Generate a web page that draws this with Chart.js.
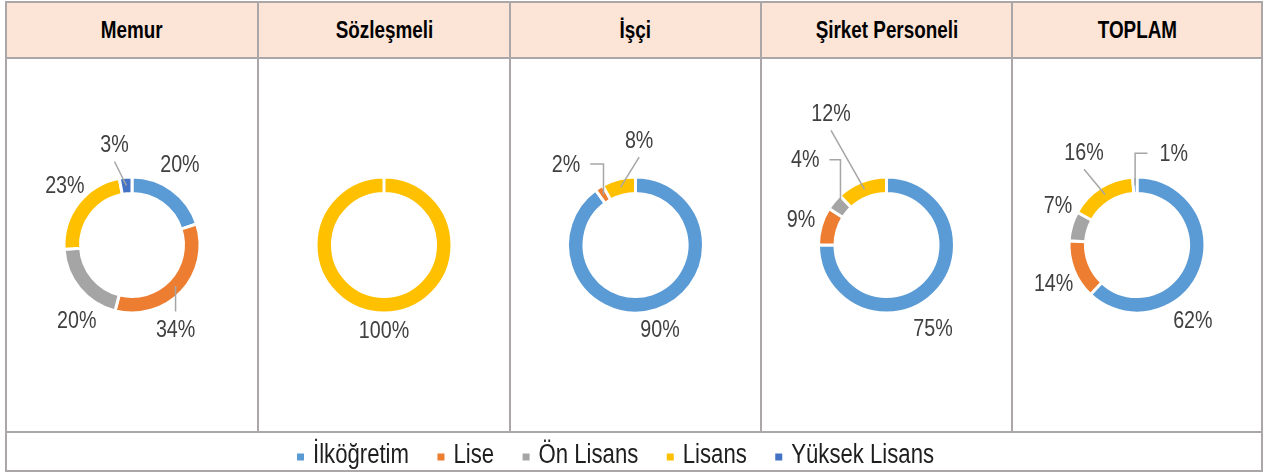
<!DOCTYPE html>
<html lang="tr">
<head>
<meta charset="utf-8">
<script src="https://cdn.jsdelivr.net/npm/chart.js@4.4.1/dist/chart.umd.min.js"></script>
<style>
  html, body { margin: 0; padding: 0; background: #fff; }
  body { width: 1264px; height: 472px; position: relative; overflow: hidden;
         font-family: "Liberation Sans", Arial, sans-serif; }
  .cell { position: absolute; box-sizing: border-box; border: 2px solid #aba7a9; }
  .head { background: #fce4d6; display: flex; align-items: center; justify-content: center; }
  .head span { display: inline-block; font-weight: bold; font-size: 23px; color: #000;
               transform: scaleX(0.82); white-space: nowrap; }
  canvas { position: absolute; }
</style>
</head>
<body>
<script>
// --- data ---
const groups = ['Memur', 'Sözleşmeli', 'İşçi', 'Şirket Personeli', 'TOPLAM'];
const levels = ['İlköğretim', 'Lise', 'Ön Lisans', 'Lisans', 'Yüksek Lisans'];
const memur      = [20, 34, 20, 23, 3];
const sozlesmeli = [0, 0, 0, 100, 0];
const isci       = [90, 2, 0, 8, 0];
const sirket     = [75, 9, 4, 12, 0];
const toplam     = [62, 14, 7, 16, 1];
const groupValues = [memur, sozlesmeli, isci, sirket, toplam];

// --- styles / layout ---
const levelColors = ['#5b9bd5', '#ed7d31', '#a5a5a5', '#ffc000', '#4472c4'];
const colEdges = [6, 258, 510, 761, 1012, 1262];
const rowEdges = [2, 58, 432, 471];
const SQUEEZE = 0.82; // narrow (Arial Narrow) look
const FONT = '"Liberation Sans", Arial, sans-serif';
const OUTER = 68, INNER = 51.5;

// where each percentage label sits: [angle from top (deg), distance, leader type]
const labelSpots = [
    [[31, 93], [153, 96, 'line'], [216, 94], [311, 89], [350, 101, 'line']],
    [null, null, null, [180, 86], null],
    [[164, 89], [319, 106, 'elbow'], null, [2, 104, 'line'], null],
    [[151, 96], [286, 89], [316, 117, 'elbow'], [337, 142, 'line'], null],
    [[144, 95], [245, 92], [296, 88], [330, 106, 'line'], [22, 98, 'elbow']]
];

function addCell(x0, y0, x1, y1, cls) {
    const d = document.createElement('div');
    d.className = 'cell ' + (cls || '');
    d.style.left = (x0 - 1) + 'px';
    d.style.top = (y0 - 1) + 'px';
    d.style.width = (x1 - x0 + 2) + 'px';
    d.style.height = (y1 - y0 + 2) + 'px';
    document.body.appendChild(d);
    return d;
}

// grid: header row, chart row, legend row
groups.forEach((g, i) => {
    const h = addCell(colEdges[i], rowEdges[0], colEdges[i + 1], rowEdges[1], 'head');
    const s = document.createElement('span');
    s.textContent = g;
    h.appendChild(s);
    addCell(colEdges[i], rowEdges[1], colEdges[i + 1], rowEdges[2]);
});
addCell(colEdges[0], rowEdges[2], colEdges[5], rowEdges[3]);

function labelPlugin(spots) {
    return {
        id: 'pctLabels',
        afterDatasetsDraw(chart) {
            const ctx = chart.ctx;
            const vals = chart.data.datasets[0].data;
            const meta = chart.getDatasetMeta(0);
            ctx.save();
            ctx.font = '24px ' + FONT;
            meta.data.forEach((arc, i) => {
                const spot = spots[i];
                if (!spot || !vals[i]) return;
                const p = arc.getProps(['x', 'y', 'startAngle', 'endAngle', 'innerRadius', 'outerRadius'], true);
                const a = spot[0] * Math.PI / 180 - Math.PI / 2;
                const lx = p.x + Math.cos(a) * spot[1];
                const ly = p.y + Math.sin(a) * spot[1];
                const text = vals[i] + '%';
                const half = ctx.measureText(text).width * SQUEEZE / 2;

                if (spot[2]) {
                    const mid = (p.startAngle + p.endAngle) / 2;
                    const rr = (p.innerRadius + p.outerRadius) / 2;
                    const px = p.x + Math.cos(mid) * rr;
                    const py = p.y + Math.sin(mid) * rr;
                    ctx.strokeStyle = '#a6a6a6';
                    ctx.lineWidth = 1.5;
                    ctx.beginPath();
                    ctx.moveTo(px, py);
                    if (spot[2] === 'line') {
                        ctx.lineTo(lx, ly < py ? ly + 16 : ly - 19);
                    } else {
                        ctx.lineTo(px, ly - 1);
                        ctx.lineTo(lx < px ? lx + half + 10 : lx - half - 12, ly - 1);
                    }
                    ctx.stroke();
                }

                ctx.save();
                ctx.translate(lx, ly);
                ctx.scale(SQUEEZE, 1);
                ctx.fillStyle = '#404040';
                ctx.textAlign = 'center';
                ctx.textBaseline = 'middle';
                ctx.fillText(text, 0, 0);
                ctx.restore();
            });
            ctx.restore();
        }
    };
}

groupValues.forEach((vals, i) => {
    const cv = document.createElement('canvas');
    const w = colEdges[i + 1] - colEdges[i] - 2;
    const h = rowEdges[2] - rowEdges[1] - 2;
    cv.width = w; cv.height = h;
    cv.style.left = (colEdges[i] + 1) + 'px';
    cv.style.top = (rowEdges[1] + 1) + 'px';
    cv.style.width = w + 'px'; cv.style.height = h + 'px';
    document.body.appendChild(cv);

    new Chart(cv, {
        type: 'doughnut',
        data: {
            labels: levels,
            datasets: [{
                data: vals,
                backgroundColor: levelColors,
                borderColor: '#ffffff',
                borderWidth: 3
            }]
        },
        options: {
            responsive: false,
            animation: false,
            events: [],
            radius: OUTER,
            cutout: (INNER / OUTER * 100) + '%',
            layout: { padding: 0 },
            plugins: { legend: { display: false }, tooltip: { enabled: false } }
        },
        plugins: [labelPlugin(labelSpots[i])]
    });
});

// legend row (shared by all five doughnuts)
(function drawLegend() {
    const cv = document.createElement('canvas');
    const x0 = colEdges[0] + 1, y0 = rowEdges[2] + 1;
    const w = colEdges[5] - colEdges[0] - 2, h = rowEdges[3] - rowEdges[2] - 2;
    cv.width = w; cv.height = h;
    cv.style.left = x0 + 'px'; cv.style.top = y0 + 'px';
    cv.style.width = w + 'px'; cv.style.height = h + 'px';
    document.body.appendChild(cv);
    const ctx = cv.getContext('2d');
    ctx.font = '27px ' + FONT;
    ctx.textBaseline = 'middle';
    let x = 297 - x0;
    const cy = 457 - y0;
    levels.forEach((lab, i) => {
        ctx.fillStyle = levelColors[i];
        ctx.fillRect(x, cy - 3.5, 7, 7);
        x += 16;
        ctx.save();
        ctx.translate(x, cy - 1);
        ctx.scale(SQUEEZE, 1);
        ctx.fillStyle = '#1e1e1e';
        ctx.fillText(lab, 0, 0);
        ctx.restore();
        x += ctx.measureText(lab).width * SQUEEZE + 28.5;
    });
})();
</script>
</body>
</html>
